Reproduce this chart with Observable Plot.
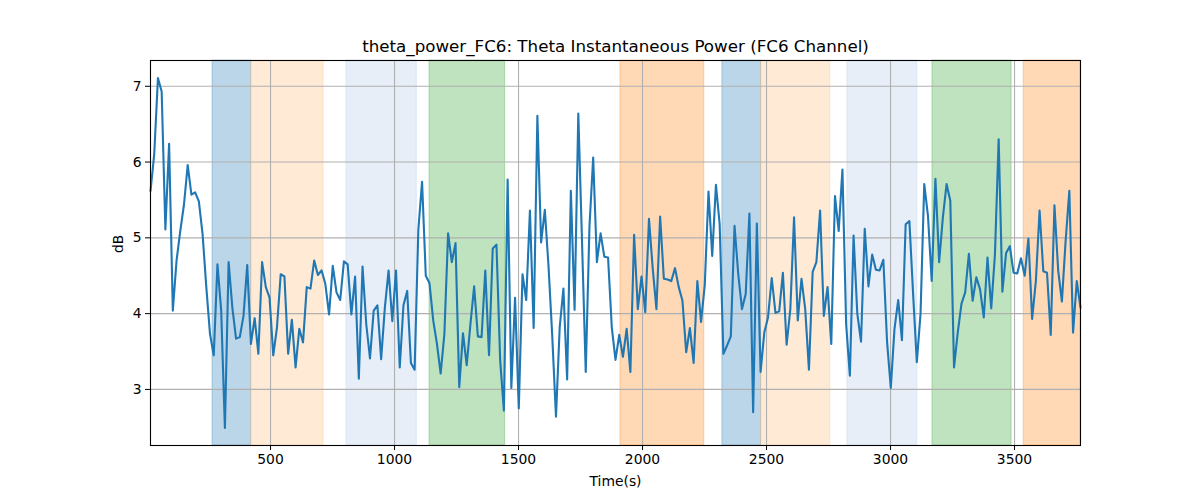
<!DOCTYPE html>
<html><head><meta charset="utf-8">
<script src="https://cdn.jsdelivr.net/npm/d3@7"></script>
<script src="https://cdn.jsdelivr.net/npm/@observablehq/plot@0.6"></script>
<style>body{margin:0;background:#fff;}</style>
</head><body><div id="chart"></div>
<script>
const titleText = "theta_power_FC6: Theta Instantaneous Power (FC6 Channel)";
const xLabel = "Time(s)";
const yLabel = "dB";
const startTime = 16;
const sampleStep = 15;
const power = [
5.62,6.10,7.11,6.93,5.11,6.24,4.04,4.70,5.09,5.44,
5.96,5.57,5.60,5.48,5.05,4.35,3.73,3.45,4.65,4.04,
2.49,4.68,4.08,3.67,3.69,3.97,4.64,3.60,3.94,3.47,
4.68,4.35,4.21,3.45,3.82,4.52,4.49,3.47,3.92,3.29,
3.80,3.62,4.35,4.33,4.70,4.51,4.57,4.39,3.99,4.63,
4.28,4.18,4.69,4.65,3.99,4.49,3.14,4.62,3.86,3.41,
4.04,4.11,3.40,4.08,4.57,3.90,4.57,3.29,4.11,4.30,
3.35,3.26,5.11,5.74,4.50,4.40,3.91,3.60,3.21,3.73,
5.06,4.68,4.93,3.03,3.74,3.32,3.86,4.36,3.70,3.69,
4.57,3.45,4.86,4.91,3.38,2.72,5.77,3.02,4.21,2.75,
4.52,4.18,5.36,3.81,6.61,4.94,5.37,4.62,3.70,2.64,
3.82,4.33,3.13,5.62,4.05,6.64,4.95,3.23,5.15,6.06,
4.68,5.06,4.75,4.74,3.82,3.39,3.72,3.43,3.80,3.23,
5.04,4.06,4.49,4.02,5.25,4.60,4.06,5.28,4.46,4.45,
4.43,4.60,4.35,4.17,3.49,3.81,3.35,4.43,3.89,4.38,
5.61,4.76,5.70,5.18,3.47,3.58,3.70,5.16,4.52,4.06,
4.26,5.32,2.70,5.19,3.23,3.75,3.95,4.47,4.01,4.03,
4.54,3.59,4.06,5.27,3.91,4.46,4.06,3.26,4.55,4.68,
5.36,3.97,4.35,3.60,5.55,5.09,5.90,3.86,3.18,5.03,
4.00,3.63,5.12,4.36,4.78,4.58,4.57,4.71,3.63,3.02,
3.80,4.18,3.65,5.18,5.22,4.26,3.36,4.00,5.71,5.29,
4.43,5.78,4.68,5.27,5.71,5.49,3.29,3.75,4.13,4.28,
4.79,4.17,4.48,4.32,3.95,4.74,4.07,4.78,6.30,4.29,
4.80,4.89,4.54,4.53,4.73,4.50,4.99,3.93,4.43,5.36,
4.56,4.54,3.72,5.43,4.57,4.16,4.96,5.62,3.75,4.43,
4.08
];
const spanStart = [266, 422, 806, 1141, 1911, 2322, 2478, 2826, 3169, 3537];
const spanEnd   = [422, 714, 1090, 1446, 2249, 2478, 2757, 3108, 3488, 3766];
const spanColor = ["#1f77b4","#ffbb78","#aec7e8","#2ca02c","#ff7f0e","#1f77b4","#ffbb78","#aec7e8","#2ca02c","#ff7f0e"];
const spanAlpha = [0.3, 0.3, 0.3, 0.3, 0.3, 0.3, 0.3, 0.3, 0.3, 0.3];
const xTicks = [500, 1000, 1500, 2000, 2500, 3000, 3500];
const yTicks = [3, 4, 5, 6, 7];

const series = power.map((v, i) => ({t: startTime + i * sampleStep, v}));
const spans = spanStart.map((s, i) => ({x1: s, x2: spanEnd[i], c: spanColor[i], a: spanAlpha[i]}));

const chart = Plot.plot({
  width: 1200, height: 500,
  marginLeft: 150, marginRight: 120, marginTop: 60, marginBottom: 55,
  style: {fontFamily: "DejaVu Sans", fontSize: "13.9px", color: "black", background: "white"},
  x: {domain: [16, 3766]},
  y: {domain: [2.26, 7.34]},
  marks: [
    Plot.rect(spans, {x1: "x1", x2: "x2", fill: "c", fillOpacity: "a", stroke: "c", strokeOpacity: "a", strokeWidth: 1}),
    Plot.gridX(xTicks, {stroke: "#b0b0b0", strokeOpacity: 1, strokeWidth: 1.1}),
    Plot.gridY(yTicks, {stroke: "#b0b0b0", strokeOpacity: 1, strokeWidth: 1.1}),
    Plot.line(series, {x: "t", y: "v", stroke: "#1f77b4", strokeWidth: 2.1}),
    Plot.frame({stroke: "black", strokeWidth: 1.1}),
    Plot.axisX(xTicks, {tickSize: 5, tickPadding: 4, label: null, fontSize: 13.9, tickFormat: d => String(d)}),
    Plot.axisY(yTicks, {tickSize: 5, tickPadding: 4, label: null, fontSize: 13.9, tickFormat: d => String(d)}),
    Plot.text([titleText], {frameAnchor: "top", text: d => d, dy: -14, fontSize: 16.7, lineAnchor: "middle"}),
    Plot.text([xLabel], {frameAnchor: "bottom", text: d => d, dy: 36, fontSize: 13.9, lineAnchor: "middle"}),
    Plot.text([yLabel], {frameAnchor: "left", text: d => d, dx: -32, rotate: -90, fontSize: 13.9, lineAnchor: "middle"})
  ]
});
document.getElementById("chart").append(chart);
</script>
</body></html>
